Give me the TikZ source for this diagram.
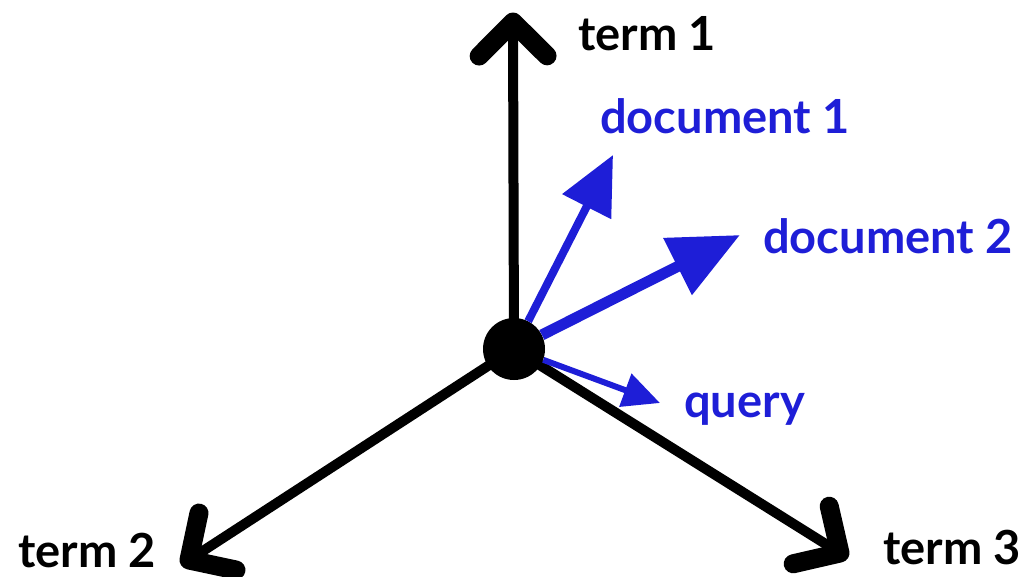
\documentclass[tikz,border=0pt]{standalone}
\usepackage{fontspec}
\setmainfont{Lato}
\usetikzlibrary{calc,arrows.meta}
\definecolor{vecblue}{RGB}{30,30,215}
\tikzset{
  axis/.style={line width=10pt, black},
  chevron/.style={line width=19pt, black, line cap=round, line join=round},
  vec/.style={vecblue},
  lbl/.style={anchor=base west, inner sep=0pt, font=\fontsize{47}{50}\selectfont\bfseries},
}
\begin{document}
\begin{tikzpicture}[x=1pt,y=-1pt]
  \useasboundingbox (0,0) rectangle (1033,576);

  % origin and the three term axes
  \coordinate (o) at (514,349);
  \coordinate (t1) at (513,22);
  \coordinate (t2) at (189,560);
  \coordinate (t3) at (840,553);

  \draw[axis] (o) -- (t1);
  \draw[axis] (o) -- (t2);
  \draw[axis] (o) -- (t3);

  \draw[chevron] ($(t1)!48pt!45:(o)$) -- (t1) -- ($(t1)!48pt!-45:(o)$);
  \draw[chevron] ($(t2)!48pt!45:(o)$) -- (t2) -- ($(t2)!48pt!-45:(o)$);
  \draw[chevron] ($(t3)!48pt!45:(o)$) -- (t3) -- ($(t3)!48pt!-45:(o)$);

  % origin point
  \node[circle, fill=black, minimum size=62pt, inner sep=0pt] (c) at (o) {};

  % document and query vectors
  \coordinate (d1) at (613,155);
  \coordinate (d2) at (740,235);
  \coordinate (q) at (660,403);
  \draw[vec, line width=8pt, -{Triangle[length=58pt,width=53pt]}] (c) -- (d1);
  \draw[vec, line width=11pt, -{Triangle[length=70pt,width=61pt]}] (c) -- (d2);
  \draw[vec, line width=6pt, -{Triangle[length=37pt,width=34pt]}] (c) -- (q);

  % labels
  \node[lbl] (l1) at (578,50) {term 1};
  \node[lbl] (l2) at (18,567) {term 2};
  \node[lbl] (l3) at (883,564) {term 3};
  \node[lbl, text=vecblue] (ld1) at (600,133) {document 1};
  \node[lbl, text=vecblue] (ld2) at (763,253) {document 2};
  \node[lbl, text=vecblue] (lq) at (684,417) {query};
\end{tikzpicture}
\end{document}
